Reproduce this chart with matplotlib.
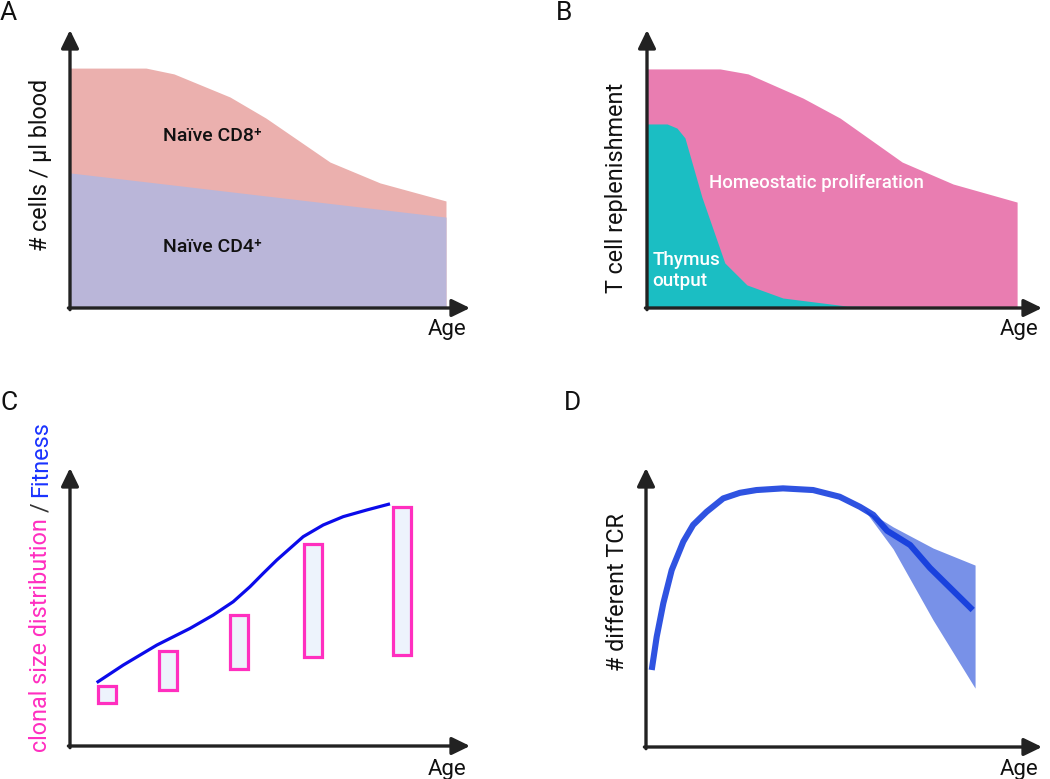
import numpy as np
import matplotlib.pyplot as plt

plt.rcParams['font.family'] = ['Roboto', 'DejaVu Sans']

# panel A: naive T cells in blood (age 0-100, value 0-100 of the axis)
a_cd8_x = [0, 19, 26, 40, 49, 65, 77.5, 94]
a_cd8_y = [86.3, 86.3, 84.2, 75.9, 68.3, 52.5, 45.0, 38.5]
a_cd4_x = [0, 94]
a_cd4_y = [48.6, 32.7]

# panel B: replenishment
b_homeo_x = [0, 18.5, 25.6, 39.5, 48.9, 64.6, 77.5, 93.7]
b_homeo_y = [86.0, 86.0, 84.2, 75.5, 68.3, 52.5, 44.6, 38.1]
b_thymus_x = [0, 5.1, 7.6, 9.6, 13.9, 19.7, 25.3, 34.4, 50.6, 93.7]
b_thymus_y = [66.2, 66.2, 64.7, 61.2, 39.9, 16.2, 8.3, 3.6, 0.7, 0]

# panel C: fitness curve and clone size boxes
c_fit_x = [6.67, 13.3, 21.7, 30.0, 35.8, 40.8, 45.0, 48.3, 51.7, 55.0, 58.3, 63.3, 68.3, 74.2, 80.0]
c_fit_y = [22.8, 29.1, 36.3, 42.3, 47.1, 51.9, 57.3, 62.1, 66.9, 71.1, 75.3, 79.5, 82.5, 84.9, 87.1]
c_box_x = [9.25, 24.6, 42.25, 60.75, 83.1]
c_box_lo = [15.5, 20.1, 27.7, 32.0, 32.7]
c_box_hi = [21.6, 34.2, 47.1, 72.7, 86.0]

# panel D: TCR diversity
d_x = [1.44, 2.7, 4.37, 6.49, 9.42, 11.9, 15.3, 19.5, 23.7, 27.9, 34.6, 42.2,
       48.9, 54.0, 57.4, 60.9, 66.7, 71.7, 82.5]
d_y = [27.6, 39.5, 51.5, 63.4, 73.6, 79.6, 84.3, 89.1, 91.1, 92.1, 92.7, 92.1,
       89.7, 86.1, 83.2, 77.5, 72.4, 64.2, 49.1]
d_band_x = [54.8, 62.4, 72.5, 83.1]
d_band_hi = [85.6, 78.9, 71.3, 65.2]
d_band_lo = [85.6, 71.0, 45.5, 21.1]

W, H = 1050, 779
fig = plt.figure(figsize=(W / 100, H / 100), dpi=100)


def make_axes(x0, y0, w, h):
    # x0, y0 = axis corner in pixels from top-left
    ax = fig.add_axes([x0 / W, 1 - y0 / H, w / W, h / H])
    ax.set_xlim(0, 100)
    ax.set_ylim(0, 100)
    ax.axis('off')
    arrow = dict(arrowstyle='-|>,head_length=0.78,head_width=0.38', lw=2.4,
                 color='#222222', mutation_scale=14, shrinkA=0, shrinkB=0)
    ax.annotate('', xy=(1, 0), xytext=(-0.004, 0), xycoords='axes fraction',
                arrowprops=arrow, annotation_clip=False)
    ax.annotate('', xy=(0, 1), xytext=(0, -0.006), xycoords='axes fraction',
                arrowprops=arrow, annotation_clip=False)
    return ax


def pix_text(x, y, s, **kw):
    fig.text(x / W, 1 - y / H, s, **kw)


# ---- A
axA = make_axes(70, 308, 400, 278)
axA.fill_between(a_cd8_x, 0, a_cd8_y, color='#ebb0ae', lw=0)
axA.fill_between(a_cd4_x, 0, a_cd4_y, color='#bab6d9', lw=0)
axA.text(35.5, 62, 'Naïve CD8⁺', ha='center', va='center', fontsize=14,
         weight='medium', color='#111111')
axA.text(35.5, 22, 'Naïve CD4⁺', ha='center', va='center', fontsize=14,
         weight='medium', color='#111111')

# ---- B
axB = make_axes(647, 308, 395, 278)
axB.fill_between(b_homeo_x, 0, b_homeo_y, color='#e97db1', lw=0)
axB.fill_between(b_thymus_x, 0, b_thymus_y, color='#1bbec3', lw=0)
axB.text(43, 45, 'Homeostatic proliferation', ha='center', va='center',
         fontsize=13.4, weight='medium', color='white')
axB.text(1.3, 13.5, 'Thymus\noutput', ha='left', va='center', fontsize=13.6,
         weight='medium', color='white', linespacing=1.25)

# ---- C
axC = make_axes(70, 746, 400, 278)
axC.plot(c_fit_x, c_fit_y, color='#0b0bea', lw=2.3, solid_capstyle='butt',
         solid_joinstyle='round')
axC.bar(c_box_x, np.array(c_box_hi) - np.array(c_box_lo), bottom=c_box_lo,
        width=4.5, facecolor='#edf3fc', edgecolor='#ff2fbf', lw=2.3)

# ---- D
axD = make_axes(646, 747, 396, 279)
axD.fill_between(d_band_x, d_band_lo, d_band_hi, color='#7891e8', lw=0)
axD.plot(d_x, d_y, color='#0a35dc', lw=4.4, alpha=0.85, solid_capstyle='butt',
         solid_joinstyle='round')

# axis labels
for x, y in [(466, 330), (1038, 330), (466, 769), (1038, 769)]:
    pix_text(x, y, 'Age', ha='right', va='center', fontsize=16, color='#111111')
pix_text(41, 165, '# cells / µl blood', rotation=90, ha='center', va='center',
         fontsize=16.8, color='#111111')
pix_text(617, 188, 'T cell replenishment', rotation=90, ha='center',
         va='center', fontsize=16.8, color='#111111')
pix_text(618, 592, '# different TCR', rotation=90, ha='center', va='center',
         fontsize=16.8, color='#111111')

# multicolour label for C, stacked bottom to top
fig.canvas.draw()
renderer = fig.canvas.get_renderer()
ypos = 752
for part, col in [('clonal size distribution ', '#ff2fc0'), ('/ ', '#333333'),
                  ('Fitness', '#1a33ff')]:
    t = fig.text(41 / W, 1 - ypos / H, part, rotation=90, ha='center',
                 va='bottom', fontsize=16.8, color=col)
    bb = t.get_window_extent(renderer)
    ypos -= bb.height

# panel letters
for x, y, s in [(0, 13, 'A'), (556, 13, 'B'), (0, 403, 'C'), (564, 403, 'D')]:
    pix_text(x, y, s, ha='left', va='center', fontsize=19, color='#111111')

fig.savefig('out.png', dpi=100)
